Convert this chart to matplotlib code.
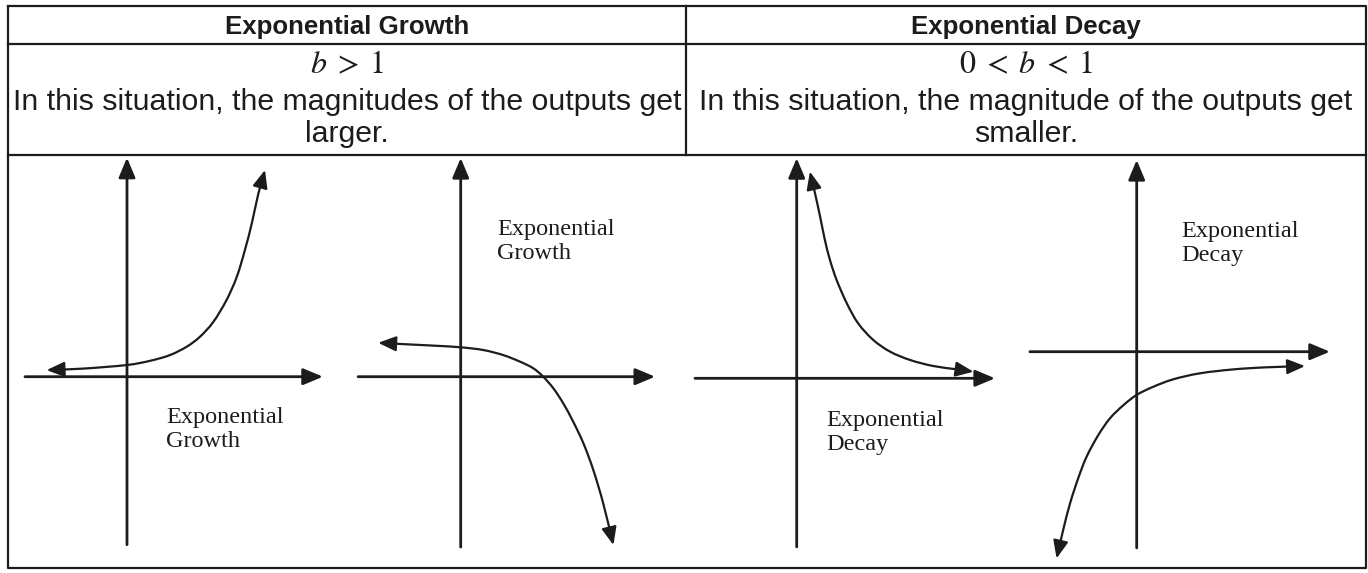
import matplotlib
matplotlib.use("Agg")
import matplotlib.pyplot as plt
from matplotlib.patches import FancyArrowPatch
from matplotlib.path import Path

plt.rcParams["mathtext.fontset"] = "stix"

# ---------------- text content ----------------
col_titles = ["Exponential Growth", "Exponential Decay"]
conditions = [r"$b\;>\;1$", r"$0\;<\;b\;<\;1$"]
descriptions = [
    ["In this situation, the magnitudes of the outputs get", "larger."],
    ["In this situation, the magnitude of the outputs get", "smaller."],
]
panel_labels = ["Exponential\nGrowth", "Exponential\nGrowth",
                "Exponential\nDecay", "Exponential\nDecay"]

# ---------------- curve data (grid units, origin at axes crossing) ----------------
growth_up_x = [-2.68, -1.46, 0.0, 0.77, 1.43, 1.99, 2.43, 2.88, 3.32, 3.66, 3.93, 4.16, 4.38, 4.60]
growth_up_y = [0.22, 0.27, 0.39, 0.53, 0.72, 1.00, 1.33, 1.83, 2.56, 3.33, 4.22, 5.11, 6.11, 6.89]

growth_down_x = [-2.75, -1.80, -0.80, 0.0, 0.75, 1.42, 1.98, 2.42, 2.75, 3.09, 3.42, 3.75, 4.09, 4.42, 4.75, 5.09]
growth_down_y = [1.13, 1.08, 1.03, 0.98, 0.89, 0.72, 0.50, 0.28, 0.0, -0.39, -0.89, -1.50, -2.22, -3.11, -4.22, -5.61]

decay_up_x = [0.44, 0.61, 0.78, 0.94, 1.11, 1.33, 1.67, 2.05, 2.55, 3.11, 3.78, 4.55, 5.33, 5.89]
decay_up_y = [6.89, 6.17, 5.39, 4.61, 3.94, 3.28, 2.50, 1.83, 1.28, 0.89, 0.61, 0.41, 0.30, 0.22]

decay_down_x = [-2.67, -2.45, -2.22, -1.95, -1.67, -1.28, -0.89, -0.44, 0.0, 0.55, 1.22, 2.11, 3.22, 4.33, 5.61]
decay_down_y = [-6.89, -5.94, -5.05, -4.22, -3.50, -2.78, -2.22, -1.78, -1.44, -1.17, -0.92, -0.72, -0.59, -0.52, -0.48]

curves = [(growth_up_x, growth_up_y), (growth_down_x, growth_down_y),
          (decay_up_x, decay_up_y), (decay_down_x, decay_down_y)]

# ---------------- layout (pixels) ----------------
W, H = 1368, 573
INK = "#1c1c1c"
left, right, top, bottom = 8, 1366, 6, 568
row1, row2 = 44, 155
mid = 686
scale = 30.0  # pixels per grid unit

panel_boxes = [(8, 345, 155, 568), (345, 686, 155, 568),
               (686, 1020, 155, 568), (1020, 1366, 155, 568)]
origins = [(127, 376.7), (460.7, 376.7), (796.7, 378.3), (1136.7, 351.7)]
axis_x_ext = [(-3.40, 6.53), (-3.42, 6.48), (-3.39, 6.61), (-3.56, 6.44)]
axis_y_ext = [(-5.60, 7.30), (-5.68, 7.29), (-5.62, 7.34), (-6.54, 6.39)]
label_pos = [(1.30, -1.00), (1.21, 5.25), (1.00, -1.05), (1.48, 4.35)]


def smooth_path(xs, ys):
    """Catmull-Rom through the given points, rendered as cubic Bezier segments."""
    pts = list(zip(xs, ys))
    verts = [pts[0]]
    codes = [Path.MOVETO]
    n = len(pts)
    for i in range(n - 1):
        p0 = pts[i - 1] if i > 0 else pts[i]
        p1 = pts[i]
        p2 = pts[i + 1]
        p3 = pts[i + 2] if i + 2 < n else pts[i + 1]
        c1 = (p1[0] + (p2[0] - p0[0]) / 6.0, p1[1] + (p2[1] - p0[1]) / 6.0)
        c2 = (p2[0] - (p3[0] - p1[0]) / 6.0, p2[1] - (p3[1] - p1[1]) / 6.0)
        verts += [c1, c2, p2]
        codes += [Path.CURVE4] * 3
    return Path(verts, codes)


fig = plt.figure(figsize=(W / 100, H / 100), dpi=100)
fig.patch.set_facecolor("white")

ax0 = fig.add_axes([0, 0, 1, 1])
ax0.set_xlim(0, W)
ax0.set_ylim(H, 0)
ax0.axis("off")

lw_t = 1.6
ax0.plot([left, right, right, left, left], [top, top, bottom, bottom, top], color=INK, lw=lw_t)
ax0.plot([left, right], [row1, row1], color=INK, lw=lw_t)
ax0.plot([left, right], [row2, row2], color=INK, lw=lw_t)
ax0.plot([mid, mid], [top, row2], color=INK, lw=lw_t)

sans = ["Liberation Sans", "DejaVu Sans"]
centers = [(left + mid) / 2, (mid + right) / 2]
for i in range(2):
    cx = centers[i]
    ax0.text(cx, 34, col_titles[i], ha="center", va="baseline", fontsize=18.6,
             fontweight="bold", family=sans, color=INK)
    ax0.text(cx, 73, conditions[i], ha="center", va="baseline", fontsize=23, color=INK)
    for line, base in zip(descriptions[i], [110, 142]):
        ax0.text(cx, base, line, ha="center", va="baseline", fontsize=21.8,
                 family=sans, color=INK)

for k in range(4):
    l, r, t, b = panel_boxes[k]
    ox, oy = origins[k]
    ax = fig.add_axes([l / W, 1 - b / H, (r - l) / W, (b - t) / H])
    ax.set_xlim((l - ox) / scale, (r - ox) / scale)
    ax.set_ylim((oy - b) / scale, (oy - t) / scale)
    ax.axis("off")
    ax.patch.set_alpha(0)

    axis_style = "-|>,head_length=1.0,head_width=0.42"
    x0, x1 = axis_x_ext[k]
    y0, y1 = axis_y_ext[k]
    ax.annotate("", xy=(x1, 0), xytext=(x0, 0),
                arrowprops=dict(arrowstyle=axis_style, color=INK, lw=2.0,
                                shrinkA=0, shrinkB=0, mutation_scale=12))
    ax.annotate("", xy=(0, y1), xytext=(0, y0),
                arrowprops=dict(arrowstyle=axis_style, color=INK, lw=2.0,
                                shrinkA=0, shrinkB=0, mutation_scale=12))

    cx, cy = curves[k]
    arrow = FancyArrowPatch(path=smooth_path(cx, cy),
                            arrowstyle="<|-|>,head_length=0.9,head_width=0.38",
                            mutation_scale=12, lw=1.6, color=INK,
                            transform=ax.transData, clip_on=False)
    ax.add_patch(arrow)

    lx, ly = label_pos[k]
    ax.text(lx, ly, panel_labels[k], ha="left", va="top", fontsize=17.5,
            family="Liberation Serif", color=INK, linespacing=1.2)

fig.savefig("out.png", dpi=100, facecolor="white")
